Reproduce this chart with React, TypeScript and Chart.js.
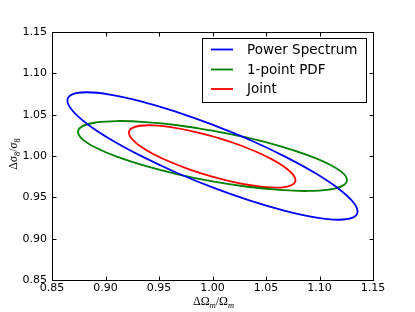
import React, { useEffect, useRef } from "react";
import { Chart, registerables } from "chart.js";

Chart.register(...registerables);

// Power Spectrum contour
const psX = [1.0, 1.0351, 1.0678, 1.0959, 1.1174, 1.131, 1.1356, 1.131, 1.1174, 1.0959, 1.0678, 1.0351, 1.0, 0.9649, 0.9322, 0.9041, 0.8826, 0.869, 0.8644, 0.869, 0.8826, 0.9041, 0.9322, 0.9649];
const psY = [1.038, 1.0193, 0.9993, 0.9794, 0.9609, 0.945, 0.9329, 0.9254, 0.9229, 0.9257, 0.9336, 0.946, 0.962, 0.9807, 1.0007, 1.0206, 1.0391, 1.055, 1.0671, 1.0746, 1.0771, 1.0743, 1.0664, 1.054];

// 1-point PDF contour
const pdfX = [1.0, 1.0325, 1.0629, 1.0889, 1.1089, 1.1214, 1.1257, 1.1214, 1.1089, 1.0889, 1.0629, 1.0325, 1.0, 0.9675, 0.9372, 0.9111, 0.8911, 0.8786, 0.8743, 0.8786, 0.8911, 0.9111, 0.9372, 0.9675];
const pdfY = [1.0307, 1.0221, 1.012, 1.0011, 0.9901, 0.9798, 0.9709, 0.9639, 0.9594, 0.9577, 0.9589, 0.9628, 0.9693, 0.9779, 0.988, 0.9989, 1.0099, 1.0202, 1.0291, 1.0361, 1.0406, 1.0423, 1.0411, 1.0372];

// Joint contour
const jointX = [0.9997, 1.0199, 1.0387, 1.0548, 1.0672, 1.0749, 1.0776, 1.0749, 1.0672, 1.0548, 1.0387, 1.0199, 0.9997, 0.9795, 0.9607, 0.9446, 0.9322, 0.9245, 0.9218, 0.9245, 0.9322, 0.9446, 0.9607, 0.9795];
const jointY = [1.0239, 1.0157, 1.0063, 0.9965, 0.9868, 0.9781, 0.9708, 0.9655, 0.9624, 0.9619, 0.964, 0.9685, 0.9751, 0.9833, 0.9927, 1.0025, 1.0122, 1.0209, 1.0282, 1.0336, 1.0366, 1.0371, 1.035, 1.0305];

const seriesLabels = ["Power Spectrum", "1-point PDF", "Joint"];
const seriesColors = ["#0000ff", "#008000", "#ff0000"];

const xTicks = [0.85, 0.9, 0.95, 1.0, 1.05, 1.1, 1.15];
const yTicks = [0.85, 0.9, 0.95, 1.0, 1.05, 1.1, 1.15];

type Part = { t: string; italic?: boolean; sub?: boolean };

const xTitle: Part[] = [
  { t: "\u0394" },
  { t: "\u03A9" },
  { t: "m", italic: true, sub: true },
  { t: "/" },
  { t: "\u03A9" },
  { t: "m", italic: true, sub: true },
];
const yTitle: Part[] = [
  { t: "\u0394" },
  { t: "\u03C3", italic: true },
  { t: "8", sub: true },
  { t: "/" },
  { t: "\u03C3", italic: true },
  { t: "8", sub: true },
];

function closed(xs: number[], ys: number[]) {
  const pts = xs.map((x, i) => ({ x, y: ys[i] }));
  pts.push({ x: xs[0], y: ys[0] });
  return pts;
}

const MATH_FAMILY = '"Liberation Serif", "DejaVu Serif", serif';

function fontFor(p: Part, size: number) {
  const s = p.sub ? size * 0.7 : size;
  return `${p.italic ? "italic " : ""}${s}px ${MATH_FAMILY}`;
}

function drawMath(ctx: CanvasRenderingContext2D, parts: Part[], size: number) {
  let total = 0;
  const widths = parts.map((p) => {
    ctx.font = fontFor(p, size);
    const w = ctx.measureText(p.t).width;
    total += w;
    return w;
  });
  let x = -total / 2;
  ctx.textBaseline = "alphabetic";
  ctx.textAlign = "left";
  parts.forEach((p, i) => {
    ctx.font = fontFor(p, size);
    ctx.fillText(p.t, x, p.sub ? size * 0.22 : 0);
    x += widths[i];
  });
}

const framePlugin = {
  id: "frameAndLegend",
  afterDraw(chart: any) {
    const { ctx, chartArea: a, scales } = chart;
    ctx.save();
    ctx.strokeStyle = "#000";
    ctx.lineWidth = 1;
    const L = Math.round(a.left) + 0.5;
    const R = Math.round(a.right) + 0.5;
    const T = Math.round(a.top) + 0.5;
    const B = Math.round(a.bottom) + 0.5;
    ctx.strokeRect(L, T, R - L, B - T);
    const tl = 4;
    ctx.beginPath();
    xTicks.forEach((v) => {
      const px = Math.round(scales.x.getPixelForValue(v)) + 0.5;
      ctx.moveTo(px, B);
      ctx.lineTo(px, B - tl);
      ctx.moveTo(px, T);
      ctx.lineTo(px, T + tl);
    });
    yTicks.forEach((v) => {
      const py = Math.round(scales.y.getPixelForValue(v)) + 0.5;
      ctx.moveTo(L, py);
      ctx.lineTo(L + tl, py);
      ctx.moveTo(R, py);
      ctx.lineTo(R - tl, py);
    });
    ctx.stroke();

    // legend
    const lx = 202.5, ly = 38.5, lw = 164, lh = 64;
    ctx.fillStyle = "#fff";
    ctx.fillRect(lx, ly, lw, lh);
    ctx.strokeStyle = "#000";
    ctx.strokeRect(lx, ly, lw, lh);
    const rows = [49.5, 69.5, 89];
    chart.data.datasets.forEach((ds: any, i: number) => {
      const y = rows[i];
      ctx.strokeStyle = ds.borderColor;
      ctx.lineWidth = 1.8;
      ctx.beginPath();
      ctx.moveTo(211, y);
      ctx.lineTo(233, y);
      ctx.stroke();
      ctx.fillStyle = "#000";
      ctx.font = '13.5px "DejaVu Sans"';
      ctx.textAlign = "left";
      ctx.textBaseline = "middle";
      ctx.fillText(ds.label, 247, y + 0.5);
    });

    // axis titles
    ctx.fillStyle = "#000";
    ctx.save();
    ctx.translate((a.left + a.right) / 2 + 1, 305);
    drawMath(ctx, xTitle, 12);
    ctx.restore();
    ctx.save();
    ctx.translate(17, 154);
    ctx.rotate(-Math.PI / 2);
    drawMath(ctx, yTitle, 12);
    ctx.restore();

    ctx.restore();
  },
};

export default function App() {
  const ref = useRef<HTMLCanvasElement>(null);
  useEffect(() => {
    document.body.style.margin = "0";
    const canvas = ref.current;
    if (!canvas) return;
    const sets = [closed(psX, psY), closed(pdfX, pdfY), closed(jointX, jointY)];
    const chart = new Chart(canvas, {
      type: "scatter",
      data: {
        datasets: sets.map((d, i) => ({
          label: seriesLabels[i],
          data: d,
          showLine: true,
          borderColor: seriesColors[i],
          backgroundColor: seriesColors[i],
          borderWidth: 1.8,
          pointRadius: 0,
          tension: 0.4,
          fill: false,
        })),
      },
      options: {
        responsive: false,
        animation: false,
        devicePixelRatio: 1,
        layout: { padding: { left: 0, right: 42, top: 32, bottom: 0 } },
        plugins: {
          legend: { display: false },
          tooltip: { enabled: false },
          title: { display: false },
        },
        scales: {
          x: {
            type: "linear",
            min: 0.85,
            max: 1.15,
            afterBuildTicks: (s: any) => {
              s.ticks = xTicks.map((v) => ({ value: v }));
            },
            afterFit: (s: any) => {
              s.height = 32;
            },
            ticks: {
              callback: (v: any) => Number(v).toFixed(2),
              font: { family: "DejaVu Sans", size: 11 },
              color: "#000",
              padding: 2,
              maxRotation: 0,
              autoSkip: false,
            },
            grid: { display: false, drawTicks: false },
            border: { display: false },
          },
          y: {
            type: "linear",
            min: 0.85,
            max: 1.15,
            afterBuildTicks: (s: any) => {
              s.ticks = yTicks.map((v) => ({ value: v }));
            },
            afterFit: (s: any) => {
              s.width = 52;
            },
            ticks: {
              callback: (v: any) => Number(v).toFixed(2),
              font: { family: "DejaVu Sans", size: 11 },
              color: "#000",
              padding: 5,
              autoSkip: false,
            },
            grid: { display: false, drawTicks: false },
            border: { display: false },
          },
        },
      },
      plugins: [framePlugin],
    });
    return () => chart.destroy();
  }, []);
  return (
    <div style={{ position: "fixed", left: 0, top: 0, width: 415, height: 312, background: "#fff" }}>
      <canvas ref={ref} width={415} height={312} style={{ display: "block" }} />
    </div>
  );
}
